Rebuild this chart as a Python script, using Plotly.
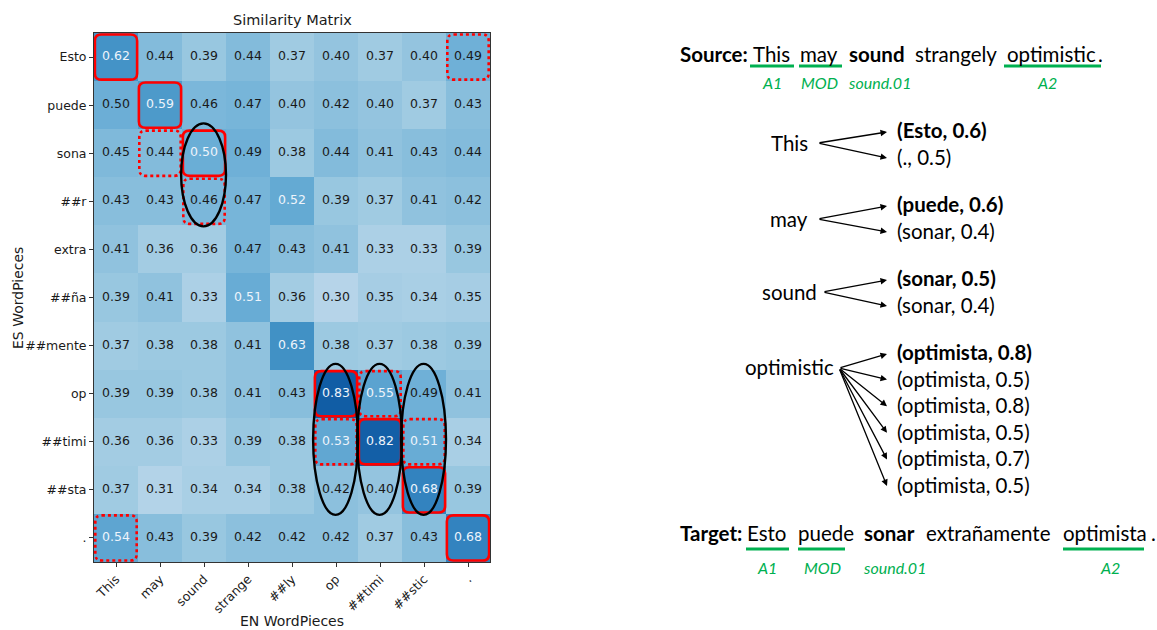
import plotly.graph_objects as go

# ---------------- data ----------------
en_pieces = ["This", "may", "sound", "strange", "##ly", "op", "##timi", "##stic", "."]
es_pieces = ["Esto", "puede", "sona", "##r", "extra", "##ña", "##mente", "op", "##timi", "##sta", "."]

sim_esto = [0.62, 0.44, 0.39, 0.44, 0.37, 0.40, 0.37, 0.40, 0.49]
sim_puede = [0.498, 0.59, 0.46, 0.47, 0.40, 0.42, 0.40, 0.37, 0.43]
sim_sona = [0.45, 0.44, 0.502, 0.49, 0.38, 0.44, 0.41, 0.43, 0.44]
sim_r = [0.43, 0.43, 0.46, 0.47, 0.52, 0.39, 0.37, 0.41, 0.42]
sim_extra = [0.41, 0.36, 0.36, 0.47, 0.43, 0.41, 0.33, 0.33, 0.39]
sim_na = [0.39, 0.41, 0.33, 0.51, 0.36, 0.30, 0.35, 0.34, 0.35]
sim_mente = [0.37, 0.38, 0.38, 0.41, 0.63, 0.38, 0.37, 0.38, 0.39]
sim_op = [0.39, 0.39, 0.38, 0.41, 0.43, 0.83, 0.55, 0.49, 0.41]
sim_timi = [0.36, 0.36, 0.33, 0.39, 0.38, 0.53, 0.82, 0.51, 0.34]
sim_sta = [0.37, 0.31, 0.34, 0.34, 0.38, 0.42, 0.40, 0.68, 0.39]
sim_dot = [0.54, 0.43, 0.39, 0.42, 0.42, 0.42, 0.37, 0.43, 0.68]

# highlighted cells (row, col)
best_cells = [(0, 0), (1, 1), (2, 2), (7, 5), (8, 6), (9, 7), (10, 8)]
alt_cells = [(0, 8), (2, 1), (3, 2), (7, 6), (8, 5), (8, 7), (10, 0)]
# ellipses (col, first row, last row)
groups = [(2, 2, 3), (5, 7, 9), (6, 7, 9), (7, 7, 9)]

# right panel text
source_words = [("Source:", True), ("This", False), ("may", False), ("sound", True),
                ("strangely", False), ("optimistic", False), (".", False)]
target_words = [("Target:", True), ("Esto", False), ("puede", False), ("sonar", True),
                ("extrañamente", False), ("optimista", False), (".", False)]
role_labels = ["A1", "MOD", "sound.01", "A2"]
map_sources = ["This", "may", "sound", "optimistic"]
map_targets = [
    [("Esto", 0.6, True), (".", 0.5, False)],
    [("puede", 0.6, True), ("sonar", 0.4, False)],
    [("sonar", 0.5, True), ("sonar", 0.4, False)],
    [("optimista", 0.8, True), ("optimista", 0.5, False), ("optimista", 0.8, False),
     ("optimista", 0.5, False), ("optimista", 0.7, False), ("optimista", 0.5, False)],
]

# ---------------- figure ----------------
Z = [sim_esto, sim_puede, sim_sona, sim_r, sim_extra, sim_na, sim_mente,
     sim_op, sim_timi, sim_sta, sim_dot]

W, H = 1157, 630
ML, MT = 94, 33
PW, PH = 396, 529
MR = W - ML - PW
MB = H - MT - PH

blues = [[0.0, "#f7fbff"], [0.125, "#deebf7"], [0.25, "#c6dbef"], [0.375, "#9ecae1"],
         [0.5, "#6baed6"], [0.625, "#4292c6"], [0.75, "#2171b5"], [0.875, "#08519c"],
         [1.0, "#08306b"]]

fig = go.Figure()
fig.add_trace(go.Heatmap(
    z=Z, x=list(range(len(en_pieces))), y=list(range(len(es_pieces))),
    colorscale=blues, zmin=0, zmax=1, showscale=False, hoverinfo="skip",
))

dx, dy, dt, lx, ly, lt = [], [], [], [], [], []
for r, row in enumerate(Z):
    for c, v in enumerate(row):
        if v > 0.5:
            lx.append(c); ly.append(r); lt.append(f"{v:.2f}")
        else:
            dx.append(c); dy.append(r); dt.append(f"{v:.2f}")
cell_font = "DejaVu Sans"
fig.add_trace(go.Scatter(x=dx, y=dy, text=dt, mode="text", hoverinfo="skip",
                         textfont=dict(family=cell_font, size=12.5, color="#1a1a1a")))
fig.add_trace(go.Scatter(x=lx, y=ly, text=lt, mode="text", hoverinfo="skip",
                         textfont=dict(family=cell_font, size=12.5, color="#eef4fb")))


def rrect(cx, cy, hw=0.5, hh=0.5, rx=0.15, ry=0.13):
    x0, x1, y0, y1 = cx - hw, cx + hw, cy - hh, cy + hh
    return (f"M {x0+rx},{y0} L {x1-rx},{y0} Q {x1},{y0} {x1},{y0+ry} "
            f"L {x1},{y1-ry} Q {x1},{y1} {x1-rx},{y1} L {x0+rx},{y1} "
            f"Q {x0},{y1} {x0},{y1-ry} L {x0},{y0+ry} Q {x0},{y0} {x0+rx},{y0} Z")


shapes = []
for r, c in best_cells:
    shapes.append(dict(type="path", path=rrect(c, r, 0.48, 0.47), xref="x", yref="y",
                       line=dict(color="#ff0000", width=2.6)))
for r, c in alt_cells:
    shapes.append(dict(type="path", path=rrect(c, r, 0.47, 0.47), xref="x", yref="y",
                       line=dict(color="#ff0000", width=2.6, dash="dot")))
for c, r0, r1 in groups:
    shapes.append(dict(type="circle", xref="x", yref="y", x0=c - 0.52, x1=c + 0.5,
                       y0=r0 - 0.62, y1=r1 + 0.52, line=dict(color="black", width=2.4)))


def px(x):
    return (x - ML) / PW


def py(y):
    return (H - MB - y) / PH


annots = []
FONT = "Lato"
FS = 20.5
GREEN = "#00b050"


def label(text, x, y, size, angle=0):
    annots.append(dict(text=text, x=px(x), y=py(y), xref="paper", yref="paper",
                       xanchor="center", yanchor="middle", textangle=angle, showarrow=False,
                       font=dict(family=cell_font, size=size, color="#1a1a1a")))


label("Similarity Matrix", 292, 20, 14.5)
label("EN WordPieces", 292, 621, 14)
label("ES WordPieces", 18, 298, 14, -90)


def word(t, x, y, bold=False, size=FS, color="black", anchor="left", italic=False):
    txt = f"<b>{t}</b>" if bold else t
    if italic:
        txt = f"<i>{txt}</i>"
    annots.append(dict(text=txt, x=px(x), y=py(y), xref="paper", yref="paper",
                       xanchor=anchor, yanchor="middle", showarrow=False,
                       font=dict(family=FONT, size=size, color=color)))


src_x = [678, 751, 798, 847, 913, 1005, 1096]
for (t, b), x in zip(source_words, src_x):
    word(t, x, 54, b)
tgt_x = [678, 745, 796, 862, 924, 1061, 1149]
for (t, b), x in zip(target_words, tgt_x):
    word(t, x, 533, b)

for (x0, x1) in [(750, 794), (799, 842), (1004, 1101)]:
    shapes.append(dict(type="line", xref="paper", yref="paper", x0=px(x0), x1=px(x1),
                       y0=py(66), y1=py(66), line=dict(color=GREEN, width=3)))
for (x0, x1) in [(746, 789), (798, 845), (1063, 1144)]:
    shapes.append(dict(type="line", xref="paper", yref="paper", x0=px(x0), x1=px(x1),
                       y0=py(549), y1=py(549), line=dict(color=GREEN, width=3)))

for t, x in zip(role_labels, [772, 819, 879, 1047]):
    word(t, x, 82, size=16, color=GREEN, anchor="center", italic=True)
for t, x in zip(role_labels, [767, 822, 894, 1110]):
    word(t, x, 567, size=16, color=GREEN, anchor="center", italic=True)

# mapping groups
src_pos = [(789, 143), (789, 219), (789, 292), (789, 367)]
tail_pos = [(818, 143), (818, 219), (823, 292), (839, 368)]
first_line = [130, 204, 278, 352]
line_gap = [27, 27, 27, 26.6]
for i, (s, tg) in enumerate(zip(map_sources, map_targets)):
    sx, sy = src_pos[i]
    word(s, sx, sy, anchor="center")
    tx, ty = tail_pos[i]
    for j, (w, v, b) in enumerate(tg):
        ly_ = first_line[i] + j * line_gap[i]
        word(f"({w}, {v})", 895, ly_, bold=b)
        hx, hy = 887, ly_ + (2 if j == 0 else 1)
        annots.append(dict(x=px(hx), y=py(hy), xref="paper", yref="paper", text="",
                           showarrow=True, ax=tx - hx, ay=ty - hy, axref="pixel",
                           ayref="pixel", arrowhead=2, arrowsize=1, arrowwidth=1.3,
                           arrowcolor="black", standoff=0, startstandoff=0))

axis_common = dict(showgrid=False, zeroline=False, showline=True, mirror=True,
                   linecolor="#333333", linewidth=1, ticks="outside", ticklen=4,
                   tickcolor="#333333", tickfont=dict(family=cell_font, size=12.5, color="#1a1a1a"))
fig.update_layout(
    width=W, height=H, margin=dict(l=ML, r=MR, t=MT, b=MB),
    paper_bgcolor="white", plot_bgcolor="white", showlegend=False,
    xaxis=dict(range=[-0.5, 8.5], tickvals=list(range(len(en_pieces))), ticktext=en_pieces,
               tickangle=-45, **axis_common),
    yaxis=dict(range=[10.5, -0.5], tickvals=list(range(len(es_pieces))), ticktext=es_pieces,
               **axis_common),
    shapes=shapes, annotations=annots,
)
fig.write_html("out.html", config={"displayModeBar": False},
               post_script="document.body.style.margin='0';")
